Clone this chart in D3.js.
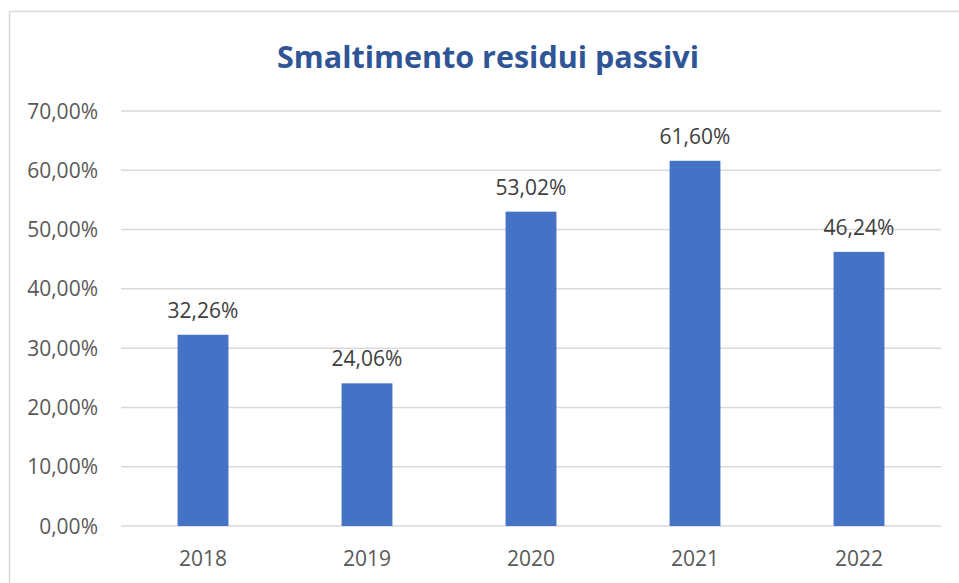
<!DOCTYPE html>
<html><head><meta charset="utf-8">
<script src="https://cdn.jsdelivr.net/npm/d3@7"></script>
<style>
body{margin:0;background:#fff;}
text{font-family:"Open Sans","Noto Sans",sans-serif;}
</style></head>
<body><svg id="c" width="959" height="583"></svg>
<script>
const categories = ["2018","2019","2020","2021","2022"];
const values = [32.26, 24.06, 53.02, 61.60, 46.24];
const valueLabels = ["32,26%","24,06%","53,02%","61,60%","46,24%"];
const yTicks = [0,10,20,30,40,50,60,70];
const yTickLabels = ["0,00%","10,00%","20,00%","30,00%","40,00%","50,00%","60,00%","70,00%"];
const title = "Smaltimento residui passivi";

const svg = d3.select("#c");
svg.append("rect").attr("width",959).attr("height",583).attr("fill","#fff");
// chart border
svg.append("path").attr("d","M9.5,583 V11.5 H959").attr("fill","none").attr("stroke","#d9d9d9").attr("stroke-width",1.5);

const pL=121, pR=941, pT=111, pB=526;
const x = d3.scaleBand().domain(categories).range([pL,pR]).padding(0);
const y = d3.scaleLinear().domain([0,70]).range([pB,pT]);
const barW = x.bandwidth()*0.31;

svg.append("g").selectAll("line").data(yTicks).join("line")
  .attr("x1",pL).attr("x2",pR)
  .attr("y1",d=>y(d)).attr("y2",d=>y(d))
  .attr("stroke","#d9d9d9").attr("stroke-width",1.5);

svg.append("g").selectAll("text").data(yTicks).join("text")
  .attr("x",98).attr("y",d=>y(d)).attr("dy","0.36em")
  .attr("text-anchor","end").attr("fill","#595959").attr("font-size",21)
  .text((d,i)=>yTickLabels[i]);

svg.append("g").selectAll("rect").data(values).join("rect")
  .attr("x",(d,i)=>x(categories[i])+x.bandwidth()/2-barW/2)
  .attr("width",barW)
  .attr("y",d=>y(d)).attr("height",d=>pB-y(d))
  .attr("fill","#4472c4");

svg.append("g").selectAll("text").data(values).join("text")
  .attr("x",(d,i)=>x(categories[i])+x.bandwidth()/2)
  .attr("y",d=>y(d)-17)
  .attr("text-anchor","middle").attr("fill","#404040").attr("font-size",21)
  .text((d,i)=>valueLabels[i]);

svg.append("g").selectAll("text").data(categories).join("text")
  .attr("x",d=>x(d)+x.bandwidth()/2).attr("y",566)
  .attr("text-anchor","middle").attr("fill","#595959").attr("font-size",21)
  .text(d=>d);

svg.append("text").attr("x",488).attr("y",68).attr("text-anchor","middle")
  .attr("fill","#2f5597").attr("font-size",30).attr("font-weight","bold")
  .attr("textLength",422).attr("lengthAdjust","spacingAndGlyphs")
  .text(title);
</script></body></html>
